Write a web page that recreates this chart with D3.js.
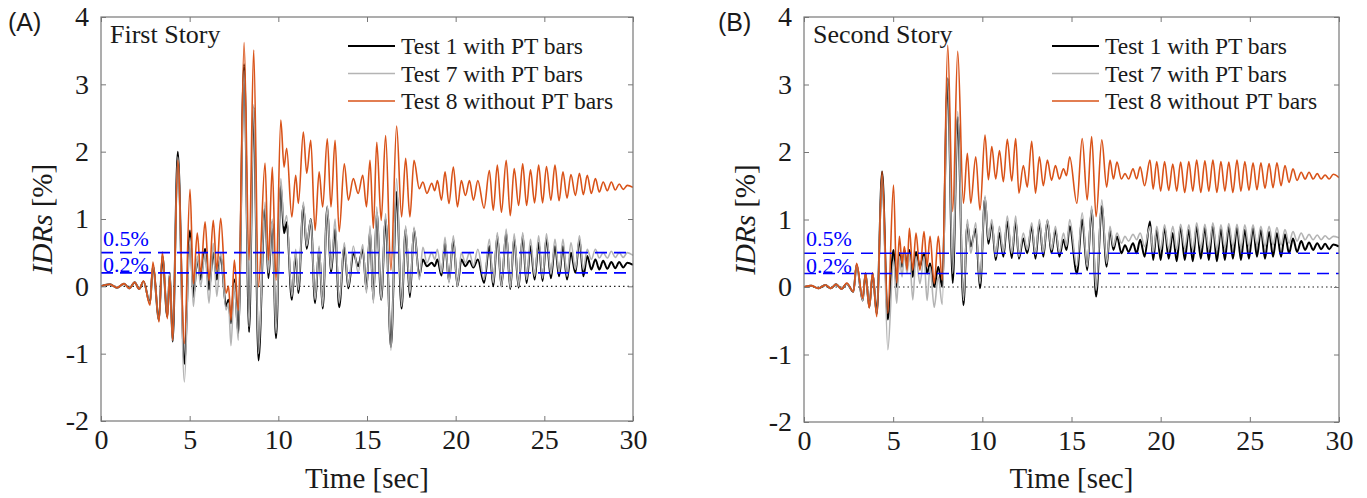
<!DOCTYPE html>
<html>
<head>
<meta charset="utf-8">
<script src="https://cdn.jsdelivr.net/npm/d3@7"></script>
<style>
  body { margin: 0; background: #fff; }
  svg { font-family: "Liberation Serif", "Times New Roman", serif; }
  text { font-family: "Liberation Serif", "Times New Roman", serif; fill: #1a1a1a; }
  text.panel-tag { font-family: "Liberation Sans", Arial, sans-serif; }
</style>
</head>
<body>
<svg id="chart" width="1367" height="498"></svg>
<script>
// ---- data (extrema of each record, IDR in %) ----
const timeA = [
  0, 0.5, 0.9, 1.3, 1.6, 1.9, 2.15, 2.4, 2.76, 2.93,
  3.27, 3.46, 3.74, 3.88, 4.04, 4.33, 4.70, 5.02, 5.21, 5.43,
  5.62, 5.87, 6.09, 6.33, 6.53, 6.75, 7.05, 7.19, 7.33, 7.52,
  7.74, 8.07, 8.35, 8.61, 8.88, 9.25, 9.44, 9.66, 9.87, 10.14,
  10.32, 10.47, 10.76, 10.98, 11.13, 11.41, 11.6, 11.83, 12.07, 12.3,
  12.5, 12.76, 12.97, 13.2, 13.43, 13.72, 13.95, 14.23, 14.5, 14.76,
  14.97, 15.17, 15.36, 15.55, 15.8, 16.05, 16.35, 16.67, 16.95, 17.18,
  17.42, 17.65, 17.95, 18.15, 18.38, 18.65, 18.82, 18.97, 19.2, 19.4,
  19.62, 19.87, 20.1, 20.32, 20.55, 20.78, 21.0, 21.25, 21.6, 21.9,
  22.12, 22.35, 22.58, 22.85, 23.08, 23.3, 23.55, 23.78, 24.0, 24.22,
  24.45, 24.68, 24.9, 25.12, 25.37, 25.6, 25.83, 26.05, 26.28, 26.5,
  26.75, 26.98, 27.2, 27.42, 27.65, 27.88, 28.1, 28.32, 28.55, 28.78,
  29.0, 29.22, 29.45, 29.68, 30
];
const test8A = [
  0, 0.03, -0.02, 0.04, -0.03, 0.06, -0.04, 0.08, -0.28, 0.36,
  -0.53, 0.51, -0.48, 0.15, -0.8, 1.87, -0.85, 1.44, 0.04, 0.79,
  0.19, 0.96, 0.09, 0.98, 0.24, 1.01, -0.1, 0.0, -0.5, 0.39,
  -0.36, 3.62, 0.39, 3.51, -0.01, 1.83, 0.39, 1.77, 0.09, 2.47,
  1.77, 2.05, 1.03, 1.65, 1.23, 2.29, 1.68, 2.17, 0.83, 1.70,
  1.18, 2.19, 1.18, 2.17, 0.81, 1.82, 1.28, 1.6, 1.38, 1.65,
  1.18, 1.87, 0.86, 2.14, 0.98, 2.24, 0.24, 2.38, 1.03, 1.9,
  1.03, 1.87, 1.45, 1.55, 1.38, 1.53, 1.42, 1.57, 1.28, 1.7,
  1.23, 1.77, 1.18, 1.57, 1.35, 1.57, 1.28, 1.57, 1.16, 1.72,
  1.13, 1.8, 1.1, 1.87, 1.05, 1.75, 1.2, 1.82, 1.2, 1.73,
  1.24, 1.8, 1.24, 1.78, 1.28, 1.8, 1.27, 1.7, 1.31, 1.66,
  1.35, 1.68, 1.36, 1.65, 1.38, 1.6, 1.4, 1.55, 1.42, 1.55,
  1.43, 1.52, 1.44, 1.5, 1.47
];
const test1A = [
  0, 0.03, -0.02, 0.04, -0.03, 0.06, -0.04, 0.07, -0.25, 0.3,
  -0.5, 0.45, -0.45, 0.2, -0.82, 2.0, -1.15, 0.83, -0.16, 0.4,
  0.1, 0.56, -0.05, 0.5, 0.1, 0.45, -0.3, -0.2, -0.55, 0.1,
  -0.7, 3.3, -0.68, 2.66, -1.1, 1.18, 0.12, 0.96, -0.77, 1.5,
  0.79, 0.95, -0.2, 0.49, -0.1, 1.2, 0.56, 1.0, -0.25, 0.56,
  -0.33, 1.18, 0.2, 0.85, -0.31, 0.58, -0.03, 0.5, 0.3, 0.55,
  -0.05, 0.83, -0.2, 1.1, -0.2, 1.0, -0.9, 1.4, -0.33, 0.85,
  -0.16, 0.85, 0.15, 0.4, 0.3, 0.35, 0.3, 0.4, 0.16, 0.65,
  0.08, 0.7, 0.0, 0.4, 0.3, 0.38, 0.28, 0.4, 0.05, 0.6,
  0.0, 0.75, 0.0, 0.8, -0.04, 0.72, -0.02, 0.75, 0.05, 0.6,
  0.1, 0.65, 0.08, 0.72, 0.12, 0.6, 0.15, 0.6, 0.1, 0.5,
  0.2, 0.7, 0.15, 0.45, 0.25, 0.4, 0.25, 0.38, 0.26, 0.36,
  0.27, 0.36, 0.28, 0.35, 0.32
];
const test7A = [
  0, 0.03, -0.02, 0.04, -0.03, 0.06, -0.04, 0.07, -0.26, 0.32,
  -0.52, 0.48, -0.45, 0.2, -0.8, 1.92, -1.42, 0.72, -0.3, 0.45,
  0.0, 0.5, -0.25, 0.64, -0.15, 0.5, -0.35, -0.25, -0.88, 0.05,
  -0.8, 3.2, -0.6, 2.7, -1.0, 1.25, 0.2, 1.0, -0.7, 1.6,
  0.9, 1.05, -0.15, 0.55, -0.05, 1.25, 0.6, 1.0, -0.2, 0.6,
  -0.3, 1.2, 0.25, 1.0, -0.25, 0.65, 0.0, 0.6, 0.2, 0.62,
  -0.1, 0.9, -0.25, 1.18, -0.2, 1.08, -0.95, 1.6, -0.3, 0.9,
  -0.1, 0.88, 0.1, 0.58, 0.35, 0.5, 0.4, 0.55, 0.2, 0.73,
  0.05, 0.75, 0.0, 0.5, 0.35, 0.5, 0.3, 0.55, 0.1, 0.7,
  0.05, 0.8, 0.0, 0.85, -0.02, 0.78, 0.0, 0.8, 0.1, 0.7,
  0.15, 0.75, 0.12, 0.78, 0.18, 0.7, 0.2, 0.7, 0.15, 0.65,
  0.25, 0.75, 0.25, 0.55, 0.4, 0.55, 0.42, 0.5, 0.42, 0.52,
  0.43, 0.5, 0.43, 0.5, 0.46
];

const timeB = [
  0, 0.4, 0.8, 1.2, 1.5, 1.8, 2.1, 2.4, 2.77, 2.95,
  3.29, 3.45, 3.66, 3.85, 4.08, 4.38, 4.7, 5.02, 5.2, 5.35,
  5.5, 5.63, 5.78, 5.91, 6.1, 6.28, 6.5, 6.73, 6.9, 7.07,
  7.3, 7.53, 7.75, 8.06, 8.34, 8.62, 8.94, 9.16, 9.35, 9.63,
  9.87, 10.15, 10.34, 10.53, 10.75, 10.96, 11.18, 11.4, 11.65, 11.87,
  12.05, 12.3, 12.52, 12.77, 12.98, 13.2, 13.42, 13.65, 13.88, 14.1,
  14.32, 14.55, 14.72, 14.9, 15.3, 15.6, 15.88, 16.13, 16.38, 16.7,
  16.97, 17.16, 17.35, 17.55, 17.8, 18.0, 18.2, 18.45, 18.65, 18.85,
  19.1, 19.4, 19.58, 19.78, 20.0, 20.22, 20.45, 20.68, 20.9, 21.12,
  21.35, 21.58, 21.8, 22.02, 22.25, 22.48, 22.7, 22.93, 23.15, 23.38,
  23.6, 23.82, 24.05, 24.28, 24.5, 24.72, 24.95, 25.18, 25.4, 25.62,
  25.85, 26.08, 26.3, 26.52, 26.75, 26.97, 27.2, 27.42, 27.65, 27.88,
  28.1, 28.32, 28.55, 28.78, 29.0, 29.22, 29.45, 29.68, 30
];
const test8B = [
  0, 0.02, -0.02, 0.03, -0.02, 0.04, -0.03, 0.06, -0.07, 0.35,
  -0.17, 0.21, -0.31, 0.21, -0.44, 1.71, -0.39, 1.51, 0.06, 0.75,
  0.35, 0.6, 0.25, 0.87, 0.25, 0.8, 0.25, 0.82, 0.3, 0.75,
  0.05, 0.75, 0.1, 3.58, 1.12, 3.49, 1.24, 1.98, 1.24, 1.93,
  1.14, 2.25, 1.59, 2.08, 1.6, 2.02, 1.56, 2.19, 1.57, 2.2,
  1.39, 1.8, 1.48, 2.16, 1.39, 1.93, 1.5, 1.88, 1.58, 1.8,
  1.6, 1.75, 1.65, 1.93, 1.24, 2.2, 1.29, 2.23, 1.04, 2.18,
  1.48, 1.88, 1.6, 1.85, 1.6, 1.68, 1.6, 1.75, 1.6, 1.78,
  1.5, 1.88, 1.45, 1.86, 1.42, 1.86, 1.43, 1.82, 1.42, 1.85,
  1.4, 1.86, 1.42, 1.88, 1.4, 1.87, 1.42, 1.88, 1.4, 1.86,
  1.42, 1.85, 1.4, 1.88, 1.42, 1.86, 1.43, 1.84, 1.44, 1.84,
  1.46, 1.83, 1.47, 1.84, 1.5, 1.8, 1.55, 1.75, 1.58, 1.7,
  1.6, 1.7, 1.6, 1.68, 1.6, 1.66, 1.6, 1.67, 1.62
];
const test1B = [
  0, 0.02, -0.02, 0.03, -0.02, 0.04, -0.03, 0.05, -0.07, 0.33,
  -0.2, 0.2, -0.3, 0.2, -0.4, 1.71, -0.48, 0.55, 0.0, 0.5,
  0.3, 0.55, 0.3, 0.55, 0.15, 0.52, 0.3, 0.5, 0.2, 0.35,
  0.0, 0.3, 0.0, 3.09, 0.06, 2.52, -0.27, 0.93, 0.6, 0.86,
  -0.02, 1.32, 0.64, 0.95, 0.4, 0.8, 0.45, 0.97, 0.43, 0.99,
  0.42, 0.72, 0.5, 0.9, 0.42, 0.95, 0.45, 0.98, 0.5, 0.85,
  0.45, 0.7, 0.55, 0.9, 0.2, 1.0, 0.25, 1.15, -0.14, 1.2,
  0.3, 0.85, 0.55, 0.75, 0.5, 0.62, 0.52, 0.65, 0.5, 0.7,
  0.45, 0.97, 0.4, 0.85, 0.4, 0.88, 0.42, 0.8, 0.38, 0.9,
  0.4, 0.85, 0.38, 0.9, 0.42, 0.88, 0.4, 0.92, 0.38, 0.86,
  0.4, 0.9, 0.42, 0.88, 0.4, 0.85, 0.42, 0.88, 0.45, 0.85,
  0.42, 0.82, 0.45, 0.8, 0.45, 0.78, 0.5, 0.72, 0.52, 0.68,
  0.55, 0.66, 0.55, 0.65, 0.56, 0.64, 0.56, 0.63, 0.6
];
const test7B = [
  0, 0.02, -0.02, 0.03, -0.02, 0.04, -0.03, 0.05, -0.07, 0.33,
  -0.2, 0.2, -0.3, 0.2, -0.4, 1.65, -0.93, 0.4, -0.24, 0.45,
  0.15, 0.5, 0.2, 0.5, -0.19, 0.45, 0.05, 0.45, -0.2, 0.3,
  -0.3, 0.15, -0.26, 3.1, 0.2, 2.6, -0.2, 1.0, 0.5, 0.95,
  0.05, 1.35, 0.7, 1.0, 0.45, 0.9, 0.5, 1.05, 0.5, 1.05,
  0.45, 0.8, 0.55, 0.95, 0.48, 1.0, 0.5, 1.0, 0.55, 0.9,
  0.5, 0.8, 0.6, 1.0, 0.3, 1.1, 0.3, 1.2, -0.05, 1.29,
  0.35, 0.9, 0.6, 0.8, 0.65, 0.75, 0.68, 0.78, 0.7, 0.8,
  0.6, 0.9, 0.5, 0.9, 0.55, 0.92, 0.56, 0.9, 0.55, 0.93,
  0.57, 0.92, 0.55, 0.95, 0.58, 0.93, 0.56, 0.95, 0.55, 0.92,
  0.58, 0.94, 0.6, 0.93, 0.58, 0.92, 0.6, 0.92, 0.62, 0.9,
  0.6, 0.9, 0.62, 0.88, 0.62, 0.85, 0.65, 0.82, 0.68, 0.8,
  0.7, 0.78, 0.7, 0.77, 0.7, 0.76, 0.71, 0.75, 0.73
];

const xTicks = [0, 5, 10, 15, 20, 25, 30];
const yTicks = [-2, -1, 0, 1, 2, 3, 4];
const limits = [0.5, 0.2];
const limitLabels = ["0.5%", "0.2%"];
const legendNames = ["Test 1 with PT bars", "Test 7 with PT bars", "Test 8 without PT bars"];
const seriesColors = ["#000000", "#b4b4b4", "#d95319"];
const seriesWidths = [2, 1.6, 1.6];

const serif = '"Liberation Serif", "Times New Roman", serif';
const svg = d3.select("#chart");

function drawPanel(p) {
    const x = d3.scaleLinear().domain([0, 30]).range([p.left, p.right]);
    const y = d3.scaleLinear().domain([-2, 4]).range([p.bottom, p.top]);

    const g = svg.append("g");

    const clipId = "clip-" + p.tag;
    svg.append("clipPath").attr("id", clipId)
        .append("rect")
        .attr("x", p.left).attr("y", p.top)
        .attr("width", p.right - p.left).attr("height", p.bottom - p.top);

    const plot = g.append("g").attr("clip-path", `url(#${clipId})`);

    // zero reference line
    plot.append("line")
        .attr("x1", x(0)).attr("x2", x(30))
        .attr("y1", y(0)).attr("y2", y(0))
        .attr("stroke", "#222").attr("stroke-width", 1.1)
        .attr("stroke-dasharray", "1.5,3");

    const line = d3.line()
        .x(d => x(d[0]))
        .y(d => y(d[1]))
        .curve(d3.curveMonotoneX);

    // black, then gray, then orange on top
    p.series.forEach((vals, i) => {
        const pts = p.time.map((t, k) => [t, vals[k]]);
        plot.append("path")
            .datum(pts)
            .attr("d", line)
            .attr("fill", "none")
            .attr("stroke", seriesColors[i])
            .attr("stroke-width", seriesWidths[i])
            .attr("stroke-linejoin", "round");
    });

    // limit lines
    limits.forEach((v, i) => {
        plot.append("line")
            .attr("x1", x(0)).attr("x2", x(30))
            .attr("y1", y(v)).attr("y2", y(v))
            .attr("stroke", "#0000ff").attr("stroke-width", 1.6)
            .attr("stroke-dasharray", "12,7");
        g.append("text")
            .attr("x", p.left + 2)
            .attr("y", y(v) - (i === 0 ? 7 : 1))
            .style("font-family", serif)
            .style("font-size", "22px")
            .style("fill", "#0000ff")
            .text(limitLabels[i]);
    });

    // axes (ticks inside, box on)
    const axisColor = "#777";
    const fmt = d => String(d);
    const bottom = g.append("g").attr("transform", `translate(0,${p.bottom})`)
        .call(d3.axisBottom(x).tickValues(xTicks).tickFormat(fmt).tickSizeInner(-5).tickSizeOuter(0).tickPadding(8));
    const left = g.append("g").attr("transform", `translate(${p.left},0)`)
        .call(d3.axisLeft(y).tickValues(yTicks).tickFormat(fmt).tickSizeInner(-5).tickSizeOuter(0).tickPadding(12));
    const top = g.append("g").attr("transform", `translate(0,${p.top})`)
        .call(d3.axisTop(x).tickValues(xTicks).tickSizeInner(-5).tickSizeOuter(0).tickFormat(""));
    const right = g.append("g").attr("transform", `translate(${p.right},0)`)
        .call(d3.axisRight(y).tickValues(yTicks).tickSizeInner(-5).tickSizeOuter(0).tickFormat(""));

    [bottom, left, top, right].forEach(a => {
        a.attr("font-family", null).attr("font-size", null);
        a.select(".domain").remove();
        a.selectAll("line").attr("stroke", axisColor);
        a.selectAll("text")
            .style("font-family", serif)
            .style("font-size", "28px")
            .style("fill", "#1a1a1a");
    });

    g.append("rect")
        .attr("x", p.left).attr("y", p.top)
        .attr("width", p.right - p.left).attr("height", p.bottom - p.top)
        .attr("fill", "none").attr("stroke", axisColor).attr("stroke-width", 1.2);

    // axis titles
    g.append("text")
        .attr("x", (p.left + p.right) / 2).attr("y", 488)
        .attr("text-anchor", "middle")
        .style("font-family", serif)
        .style("font-size", "29px")
        .text("Time [sec]");

    const yl = g.append("text")
        .attr("transform", `translate(${p.left - 49},${(p.top + p.bottom) / 2}) rotate(-90)`)
        .attr("text-anchor", "middle")
        .style("font-family", serif)
        .style("font-size", "29px");
    yl.append("tspan").style("font-style", "italic").text("IDRs");
    yl.append("tspan").text(" [%]");

    // story title
    g.append("text")
        .attr("x", p.left + 9).attr("y", 43)
        .style("font-family", serif)
        .style("font-size", "26px")
        .text(p.title);

    // panel tag
    g.append("text")
        .attr("class", "panel-tag")
        .attr("x", p.tagX).attr("y", 31)
        .style("font-family", '"Liberation Sans", Arial, sans-serif')
        .style("font-size", "25px")
        .text(p.tagText);

    // legend
    const rows = [46, 73.5, 101];
    legendNames.forEach((name, i) => {
        g.append("line")
            .attr("x1", p.legendX).attr("x2", p.legendX + 47)
            .attr("y1", rows[i]).attr("y2", rows[i])
            .attr("stroke", seriesColors[i])
            .attr("stroke-width", seriesWidths[i]);
        g.append("text")
            .attr("x", p.legendX + 53).attr("y", rows[i])
            .attr("dy", "0.36em")
            .style("font-family", serif)
            .style("font-size", "23.5px")
            .text(name);
    });
}

drawPanel({
    tag: "a", tagText: "(A)", tagX: 8, title: "First Story",
    left: 101, right: 633, top: 17, bottom: 421, legendX: 348,
    time: timeA, series: [test1A, test7A, test8A]
});
drawPanel({
    tag: "b", tagText: "(B)", tagX: 718, title: "Second Story",
    left: 804, right: 1339, top: 17, bottom: 422, legendX: 1052,
    time: timeB, series: [test1B, test7B, test8B]
});
</script>
</body>
</html>
